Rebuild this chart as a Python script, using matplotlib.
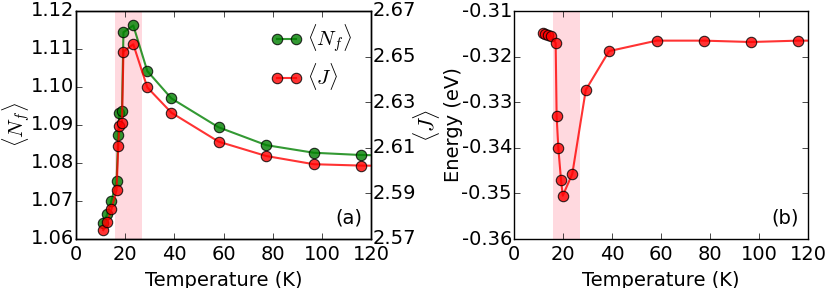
import matplotlib
matplotlib.use('Agg')
import matplotlib.pyplot as plt
import numpy as np

plt.style.use('classic')
plt.rcParams['axes.unicode_minus'] = False
plt.rcParams['font.size'] = 14

# panel (a)
temp_a = [11.1, 12.7, 14.4, 16.5, 17.2, 17.6, 18.7, 19.3, 23.3, 29.0, 38.8, 58.0, 77.4, 96.7, 116.0, 135.0]
nf = [1.0643, 1.0665, 1.0700, 1.0753, 1.0875, 1.0931, 1.0938, 1.1144, 1.1162, 1.1042,
      1.0970, 1.0894, 1.0847, 1.0827, 1.0821, 1.0819]
jj = [2.5739, 2.5773, 2.5830, 2.5915, 2.6109, 2.6196, 2.6207, 2.6522, 2.6554, 2.6365,
      2.6254, 2.6127, 2.6064, 2.6028, 2.6022, 2.6020]

# panel (b)
temp_b = [11.7, 12.7, 13.9, 15.1, 17.0, 17.4, 18.1, 19.2, 19.9, 23.8, 29.3, 38.8, 58.2, 77.5, 96.7, 116.0, 135.0]
energy = [-0.3149, -0.3151, -0.3153, -0.3155, -0.3170, -0.3331, -0.3401, -0.3471, -0.3505,
          -0.3457, -0.3273, -0.3188, -0.3165, -0.3165, -0.3168, -0.3165, -0.3165]

shade = (16.0, 27.0)

fig = plt.figure(figsize=(8.3, 2.88), dpi=100)
fig.patch.set_facecolor('white')

ax1 = fig.add_axes([76/830, 49/288, 295/830, 228/288])
ax2 = ax1.twinx()
ax1.axvspan(shade[0], shade[1], color='pink', alpha=0.6, lw=0, zorder=0)
l1, = ax1.plot(temp_a, nf, '-o', color='g', alpha=0.8, ms=7.5, mec='k', mew=0.8, lw=1.5,
               label=r'$\langle N_f \rangle$')
l2, = ax2.plot(temp_a, jj, '-o', color='r', alpha=0.8, ms=7.5, mec='k', mew=0.8, lw=1.5,
               label=r'$\langle J \rangle$')
ax1.set_xlim(0, 120)
ax1.set_ylim(1.06, 1.12)
ax2.set_ylim(2.57, 2.67)
ax1.set_yticks(np.arange(1.06, 1.1201, 0.01))
ax2.set_yticks(np.arange(2.57, 2.6701, 0.02))
ax1.yaxis.set_major_formatter(matplotlib.ticker.FormatStrFormatter('%.2f'))
ax2.yaxis.set_major_formatter(matplotlib.ticker.FormatStrFormatter('%.2f'))
ax1.tick_params(axis='y', pad=1.5)
ax2.tick_params(axis='y', pad=1.5)
ax1.set_xticks(range(0, 121, 20))
ax1.set_xlabel('Temperature (K)')
ax1.set_ylabel(r'$\langle N_f \rangle$', fontsize=15, labelpad=-2)
ax2.set_ylabel(r'$\langle J \rangle$', fontsize=16, labelpad=-4)
ax1.text(0.97, 0.05, '(a)', transform=ax1.transAxes, ha='right', va='bottom')
ax1.legend([l1, l2], [l1.get_label(), l2.get_label()], loc='upper right',
           bbox_to_anchor=(1.0, 1.03), frameon=False, numpoints=2, fontsize=15,
           labelspacing=0.3, handlelength=1.5, handletextpad=0.25)

ax3 = fig.add_axes([514/830, 49/288, 294/830, 228/288])
ax3.axvspan(shade[0], shade[1], color='pink', alpha=0.6, lw=0, zorder=0)
ax3.plot(temp_b, energy, '-o', color='r', alpha=0.8, ms=7.5, mec='k', mew=0.8, lw=1.5)
ax3.set_xlim(0, 120)
ax3.set_ylim(-0.36, -0.31)
ax3.set_yticks(np.arange(-0.36, -0.3099, 0.01))
ax3.yaxis.set_major_formatter(matplotlib.ticker.FormatStrFormatter('%.2f'))
ax3.tick_params(axis='y', pad=1.5)
ax3.set_xticks(range(0, 121, 20))
ax3.set_xlabel('Temperature (K)')
ax3.set_ylabel('Energy (eV)', labelpad=-1)
ax3.text(0.97, 0.05, '(b)', transform=ax3.transAxes, ha='right', va='bottom')

fig.savefig('out.png', dpi=100, facecolor='white')
